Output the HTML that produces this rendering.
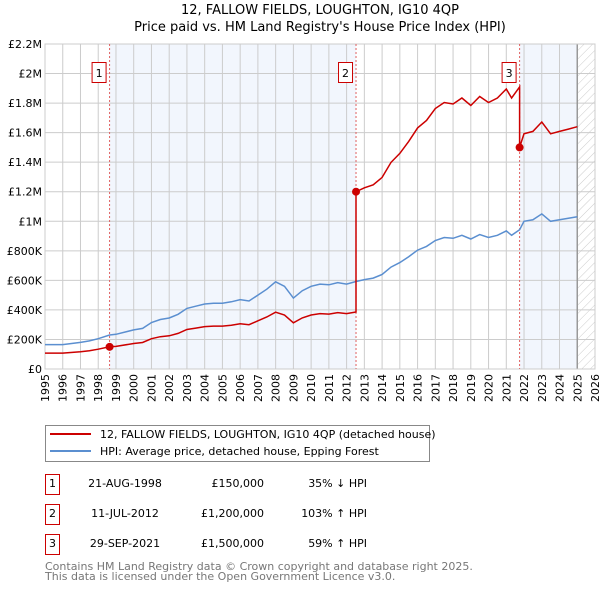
<!DOCTYPE html>
<html><head><meta charset="utf-8"><style>
body{margin:0;background:#fff;font-family:"DejaVu Sans","Liberation Sans",sans-serif;}
svg text{font-family:"DejaVu Sans","Liberation Sans",sans-serif;}
</style></head><body>
<svg id="c" width="600" height="590" xmlns="http://www.w3.org/2000/svg">
<defs><pattern id="hatch" width="6" height="6" patternUnits="userSpaceOnUse" patternTransform="rotate(45)"><line x1="0" y1="0" x2="0" y2="6" stroke="#ccc" stroke-width="1"/></pattern></defs>
<text x="320" y="14" text-anchor="middle" font-size="13">12, FALLOW FIELDS, LOUGHTON, IG10 4QP</text>
<text x="320" y="31" text-anchor="middle" font-size="13">Price paid vs. HM Land Registry's House Price Index (HPI)</text>
<g id="plot"></g>
<g>
<rect x="45.5" y="425.5" width="384" height="36" fill="#fff" stroke="#888"/>
<line x1="50" y1="434" x2="91" y2="434" stroke="#cc0000" stroke-width="2"/>
<text x="100" y="438" font-size="11">12, FALLOW FIELDS, LOUGHTON, IG10 4QP (detached house)</text>
<line x1="50" y1="451" x2="91" y2="451" stroke="#5b8fd0" stroke-width="2"/>
<text x="100" y="455" font-size="11">HPI: Average price, detached house, Epping Forest</text>
</g>
<g id="table" font-size="11"></g>
<text x="45" y="570" font-size="11" fill="#777">Contains HM Land Registry data © Crown copyright and database right 2025.</text>
<text x="45" y="580" font-size="11" fill="#777">This data is licensed under the Open Government Licence v3.0.</text>
</svg>
<script>
const hpiYears=[1995,1996,1997,1997.5,1998,1998.64,1999,2000,2000.5,2001,2001.5,2002,2002.5,2003,2003.5,2004,2004.5,2005,2005.5,2006,2006.5,2007,2007.5,2008,2008.5,2009,2009.5,2010,2010.5,2011,2011.5,2012,2012.53,2013,2013.5,2014,2014.5,2015,2015.5,2016,2016.5,2017,2017.5,2018,2018.5,2019,2019.5,2020,2020.5,2021,2021.3,2021.75,2022,2022.5,2023,2023.5,2024,2024.5,2025];
const hpiValues=[165000,165000,180000,190000,205000,230000,235000,265000,275000,315000,335000,345000,370000,410000,425000,440000,445000,445000,455000,470000,460000,500000,540000,590000,560000,480000,530000,560000,575000,570000,585000,575000,592000,605000,615000,640000,690000,720000,760000,805000,830000,870000,890000,885000,905000,880000,910000,890000,905000,935000,905000,942000,1000000,1010000,1050000,1000000,1010000,1020000,1030000];
const saleYears=[1998.64,2012.53,2021.75];
const salePrices=[150000,1200000,1500000];
const saleLabels=["1","2","3"];
const saleDates=["21-AUG-1998","11-JUL-2012","29-SEP-2021"];
const saleText=["£150,000","£1,200,000","£1,500,000"];
const saleDiff=["35% ↓ HPI","103% ↑ HPI","59% ↑ HPI"];
const yTickValues=[0,200000,400000,600000,800000,1000000,1200000,1400000,1600000,1800000,2000000,2200000];
const yTickLabels=["£0","£200K","£400K","£600K","£800K","£1M","£1.2M","£1.4M","£1.6M","£1.8M","£2M","£2.2M"];
const xTickYears=[1995,1996,1997,1998,1999,2000,2001,2002,2003,2004,2005,2006,2007,2008,2009,2010,2011,2012,2013,2014,2015,2016,2017,2018,2019,2020,2021,2022,2023,2024,2025,2026];

const X0=45,X1=595,Y0=369,Y1=44;
const x=y=>X0+(y-1995)/(2026-1995)*(X1-X0);
const yv=v=>Y0-v/2200000*(Y0-Y1);
const NS="http://www.w3.org/2000/svg";
const plot=document.getElementById('plot');
function mk(tag,attrs,parent){const e=document.createElementNS(NS,tag);for(const k in attrs)e.setAttribute(k,attrs[k]);(parent||plot).appendChild(e);return e;}
function hpiAt(t){for(let i=0;i<hpiYears.length-1;i++){if(t>=hpiYears[i]&&t<=hpiYears[i+1]){const f=(t-hpiYears[i])/(hpiYears[i+1]-hpiYears[i]);return hpiValues[i]+f*(hpiValues[i+1]-hpiValues[i]);}}return hpiValues[hpiValues.length-1];}

let bg=mk('rect',{x:X0,y:Y1,width:X1-X0,height:Y0-Y1,fill:'#fff'});


let s1=mk('rect',{x:x(saleYears[0]),y:Y1,width:x(saleYears[1])-x(saleYears[0]),height:Y0-Y1,fill:'#eef3fc',opacity:0.75});


let s3=mk('rect',{x:x(saleYears[2]),y:Y1,width:x(2025)-x(saleYears[2]),height:Y0-Y1,fill:'#eef3fc',opacity:0.75});


let ht=mk('rect',{x:x(2025),y:Y1,width:X1-x(2025),height:Y0-Y1,fill:'url(#hatch)'});


xTickYears.forEach(yr=>{
  let l=mk('line',{x1:x(yr),x2:x(yr),y1:Y1,y2:Y0,stroke:'#ccc','stroke-width':1});
  
  
  const tx=x(yr)+4,ty=Y0+5;
  let t=mk('text',{x:tx,y:ty,'text-anchor':'end','font-size':11,transform:'rotate(-90 '+tx+' '+ty+')'});
  
  
  t.textContent=yr;
});
yTickValues.forEach((v,i)=>{
  let l=mk('line',{x1:X0,x2:X1,y1:yv(v),y2:yv(v),stroke:'#ccc','stroke-width':1});
  
  
  let t=mk('text',{x:X0-3,y:yv(v)+4,'text-anchor':'end','font-size':11});
  
  
  t.textContent=yTickLabels[i];
});
let el=mk('line',{x1:x(2025),x2:x(2025),y1:Y1,y2:Y0,stroke:'#999','stroke-width':1.5});


let fr=mk('rect',{x:X0,y:Y1,width:X1-X0,height:Y0-Y1,fill:'none',stroke:'#ccc'});


saleYears.forEach((s,i)=>{
  let l=mk('line',{x1:x(s),x2:x(s),y1:Y1,y2:Y0,stroke:'#e06060','stroke-width':1,'stroke-dasharray':'2,2'});
  
  
});
const hpiPts=hpiYears.map((t,i)=>x(t).toFixed(1)+','+yv(hpiValues[i]).toFixed(1)).join(' ');
let hl=mk('polyline',{points:hpiPts,fill:'none',stroke:'#5b8fd0','stroke-width':1.5});


let pts=[];
function seg(a,b,si){const base=hpiAt(saleYears[si]);const ts=hpiYears.filter(t=>t>a&&t<b);[a,...ts,b].forEach(t=>{pts.push(x(t).toFixed(1)+','+yv(salePrices[si]*hpiAt(t)/base).toFixed(1));});}
seg(1995,saleYears[1],0);
seg(saleYears[1],saleYears[2],1);
seg(saleYears[2],2025,2);
let pl=mk('polyline',{points:pts.join(' '),fill:'none',stroke:'#cc0000','stroke-width':1.5});


saleYears.forEach((s,i)=>{
  let d=mk('circle',{cx:x(s),cy:yv(salePrices[i]),r:4,fill:'#cc0000'});
  
  
  let b=mk('rect',{x:x(s)-17.5,y:62.5,width:14,height:20,fill:'#fff',stroke:'#cc0000'});
  
  
  let t=mk('text',{x:x(s)-10.5,y:77,'text-anchor':'middle','font-size':11});
  
  
  t.textContent=saleLabels[i];
});
const tb=document.getElementById('table');
saleLabels.forEach((lab,i)=>{
  const cy=483+i*30;
  let b=mk('rect',{x:45.5,y:cy-8.5,width:14,height:20,fill:'#fff',stroke:'#cc0000'},tb);
  
  
  let t0=mk('text',{x:52.5,y:cy+4,'text-anchor':'middle'},tb);t0.textContent=lab;
  
  
  let t1=mk('text',{x:125,y:cy+4,'text-anchor':'middle'},tb);t1.textContent=saleDates[i];
  
  
  let t2=mk('text',{x:264,y:cy+4,'text-anchor':'end'},tb);t2.textContent=saleText[i];
  
  
  let t3=mk('text',{x:367,y:cy+4,'text-anchor':'end'},tb);t3.textContent=saleDiff[i];
  
  
});
</script>
</body></html>
